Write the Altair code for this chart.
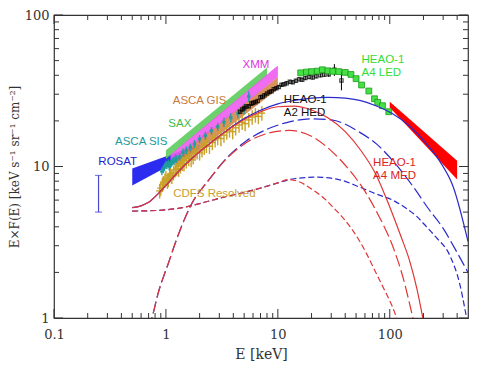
import altair as alt
import pandas as pd

# ---------------- model curves (E [keV], E*F(E)) ----------------
sb_e = [0.5, 0.6, 0.7, 0.85, 1.0, 1.3, 1.75, 2.5, 3.5, 5.0, 7.0, 10, 14, 20, 28, 40, 55, 75, 107, 150, 213, 280, 370, 500]
sb_f = [5.35, 5.5, 5.8, 6.6, 7.5, 9.3, 11.5, 14.3, 17.3, 20.7, 23.5, 25.9, 27.3, 28.3, 28.6, 28.3, 27.2, 25.2, 22.2, 18.5, 14.1, 10.8, 7.3, 3.2]

sr_e = [0.5, 0.6, 0.7, 0.85, 1.0, 1.3, 1.75, 2.5, 3.5, 5.0, 7.0, 10, 14, 20, 28, 40, 55, 75, 100, 125, 150, 175, 200]
sr_f = [5.35, 5.5, 5.8, 6.6, 7.5, 9.3, 11.5, 14.3, 17.2, 20.4, 23.0, 24.8, 25.0, 23.6, 21.0, 17.0, 12.8, 8.9, 5.4, 3.5, 2.4, 1.55, 0.95]

ldb_e = [0.70, 0.75, 0.85, 1.05, 1.3, 1.7, 2.4, 3.5, 5.25, 8, 12, 20, 30, 54, 76, 110, 161, 220, 300, 400, 500]
ldb_f = [0.85, 1.0, 1.45, 2.29, 3.6, 5.68, 8.1, 11.4, 14.8, 17.6, 19.5, 20.6, 20.3, 16.8, 14.1, 10.6, 7.4, 5.3, 3.9, 2.7, 2.0]

ldr_e = [0.70, 0.75, 0.85, 1.05, 1.3, 1.7, 2.4, 3.5, 5.25, 8, 12.8, 16, 22, 31, 45, 62, 80, 107, 130, 161]
ldr_f = [0.85, 1.0, 1.45, 2.29, 3.6, 5.68, 8.1, 11.3, 14.4, 16.5, 17.3, 16.9, 15.2, 12.4, 9.2, 6.6, 4.7, 2.94, 1.9, 1.0]

sdb_e = [0.5, 0.7, 1.0, 1.4, 1.75, 2.5, 3.5, 5, 7, 10, 14, 22, 35, 54, 75, 107, 140, 173, 213, 260, 343, 420, 480]
sdb_f = [5.08, 5.1, 5.18, 5.35, 5.55, 5.95, 6.35, 6.75, 7.2, 7.8, 8.3, 8.5, 8.2, 7.3, 6.6, 5.98, 5.3, 4.7, 4.0, 3.4, 2.6, 1.7, 1.05]

sdr_e = [0.5, 0.7, 1.0, 1.4, 1.75, 2.5, 3.5, 5, 7, 10, 12.5, 15.7, 20, 27, 31, 40, 54, 62, 75, 93, 105, 118]
sdr_f = [5.08, 5.1, 5.18, 5.35, 5.55, 5.95, 6.35, 6.75, 7.2, 7.8, 8.2, 7.9, 7.1, 6.0, 5.4, 4.4, 3.2, 2.66, 2.0, 1.45, 1.2, 0.95]

# ---------------- measured bands (E range, top and bottom) ----------------
rosat_e = [0.5, 2.0]
rosat_top = [9.7, 14.0]
rosat_bot = [7.5, 13.0]

sax_e = [1.0, 8.0]
sax_top = [12.8, 45.0]
sax_bot = [11.2, 39.5]

gis_e = [1.2, 10.0]
gis_top = [11.5, 39.0]
gis_bot = [9.6, 32.5]

xmm_e = [1.1, 10.0]
xmm_top = [12.0, 46.5]
xmm_bot = [10.4, 39.0]

med_e = [100, 400]
med_top = [26.8, 10.9]
med_bot = [24.5, 8.2]

# ---------------- measured points ----------------
sis_e = [0.92, 0.95, 0.97, 1.0, 1.02, 1.05, 1.07, 1.1, 1.12, 1.15, 1.18, 1.22, 1.25, 1.33, 1.42, 1.52, 1.65, 1.8,
         2.0, 2.25, 2.55, 2.9, 3.3, 3.8, 4.4, 5.0, 5.5]
sis_f = [9.3, 9.6, 9.9, 10.3, 10.2, 10.5, 10.0, 10.4, 10.6, 10.8, 10.9, 11.3, 11.2, 11.6, 12.4, 12.8, 13.4, 14.1,
         15.2, 16.0, 17.2, 18.3, 19.6, 21.0, 22.4, 24.0, 29.0]
sis_err = [0.06, 0.06, 0.06, 0.06, 0.06, 0.06, 0.06, 0.06, 0.06, 0.06, 0.06, 0.06, 0.06, 0.06, 0.06, 0.06, 0.06,
           0.06, 0.06, 0.06, 0.06, 0.06, 0.07, 0.07, 0.07, 0.08, 0.08]

cdfs_e = [0.88, 0.9, 0.93, 0.95, 0.98, 1.0, 1.03, 1.05, 1.08, 1.1, 1.13, 1.17, 1.21, 1.25, 1.3, 1.35, 1.4, 1.45,
          1.52, 1.6, 1.68, 1.75, 1.82, 1.9, 2.0, 2.1, 2.2, 2.3, 2.45, 2.6, 2.75, 2.9, 3.1, 3.3, 3.5, 3.7, 3.95,
          4.2, 4.5, 4.8, 5.1, 5.5, 5.9, 6.3, 6.7, 7.2]
cdfs_f = [6.9, 7.2, 7.6, 7.8, 8.1, 8.4, 8.0, 8.2, 8.7, 8.9, 8.6, 9.1, 9.5, 9.7, 9.6, 10.1, 10.5, 10.4,
          10.9, 11.3, 11.1, 11.6, 12.2, 12.5, 12.3, 12.9, 13.4, 13.8, 13.6, 14.4, 15.0, 15.5, 15.3, 16.1, 16.9,
          17.4, 17.0, 18.0, 18.8, 19.6, 19.2, 20.3, 21.2, 21.9, 21.4, 22.5]
cdfs_err = [0.11] * len(cdfs_e)

hed_e = [4.6, 4.8, 5.0, 5.2, 5.5, 5.8, 6.0, 6.3, 6.6, 7.0, 7.3, 7.6, 8.0, 8.4, 8.8, 9.2, 9.7, 10.2, 10.8, 11.4,
         12.0, 12.8, 13.6, 14.5, 15.5, 16.5, 17.6, 19.0, 20.5, 22, 24, 26, 28.5, 32, 37]
hed_f = [23.0, 23.8, 24.2, 24.9, 25.0, 26.0, 26.3, 26.6, 27.1, 28.6, 28.9, 29.5, 30.3, 31.0, 31.4, 32.4, 32.9,
         33.5, 34.6, 34.9, 35.4, 36.2, 36.0, 36.8, 37.6, 37.4, 38.4, 39.0, 38.7, 39.4, 40.0, 40.4, 40.6, 43.5, 37.0]
hed_err = [0.03, 0.03, 0.03, 0.03, 0.03, 0.03, 0.03, 0.03, 0.03, 0.03, 0.03, 0.03, 0.03, 0.03, 0.03, 0.03, 0.03,
           0.03, 0.03, 0.03, 0.03, 0.03, 0.03, 0.03, 0.03, 0.03, 0.03, 0.03, 0.03, 0.03, 0.03, 0.03, 0.04, 0.09, 0.14]

led_e = [16, 18, 20, 22.5, 25, 28, 31, 35, 40, 45, 50, 56, 65, 73, 78, 86, 98]
led_f = [41.5, 42.0, 42.3, 42.6, 43.5, 42.8, 42.5, 42.3, 41.8, 40.5, 38.0, 34.5, 31.5, 28.0, 26.5, 25.2, 23.0]

rosat_bar_e = [0.25]
rosat_bar_lo = [5.0]
rosat_bar_hi = [8.73]

# ---------------- labels ----------------
lab_text = ["ROSAT", "ASCA SIS", "SAX", "ASCA GIS", "XMM", "HEAO-1", "A2 HED", "HEAO-1", "A4 LED",
            "HEAO-1", "A4 MED", "CDFS Resolved"]
lab_e = [0.249, 0.351, 1.05, 1.15, 4.84, 11.3, 11.3, 55.9, 55.9, 71, 71, 1.16]
lab_f = [10.7, 14.5, 19.1, 27.0, 46.9, 27.4, 22.6, 50.2, 41.5, 10.5, 8.7, 6.61]
lab_col = ["#2222cc", "#1f9a9a", "#44bb44", "#c87a40", "#dd33dd", "#111111", "#111111", "#33dd33",
           "#33dd33", "#dd2222", "#dd2222", "#c8a030"]

# ---------------- ticks ----------------
x_major = [0.1, 1, 10, 100]
x_minor = [m * d for d in [0.1, 1, 10] for m in range(2, 10)] + [200, 300, 400]
y_major = [1, 10, 100]
y_minor = [m * d for d in [1, 10] for m in range(2, 10)]

W, H = 414, 303
xs = alt.Scale(type="log", domain=[0.1, 500], nice=False)
ys = alt.Scale(type="log", domain=[1, 100], nice=False)
serif = "DejaVu Serif"
XAX = alt.Axis(values=x_major, ticks=False, domain=False, grid=False,
               title="E [keV]", labelFont=serif, labelFontSize=13,
               titleFont=serif, titleFontSize=14, titleFontWeight="normal",
               labelPadding=10, titlePadding=6, labelColor="#333",
               titleColor="#333", format="~g", labelFlush=False)
YAX = alt.Axis(values=y_major, ticks=False, domain=False, grid=False,
               title="E×F(E) [keV s⁻¹ sr⁻¹ cm⁻²]", labelFont=serif,
               labelFontSize=13, titleFont=serif, titleFontSize=12,
               titleFontWeight="normal", labelPadding=5, titlePadding=3,
               labelColor="#333", titleColor="#333", format="~g", labelFlush=False)


def xe(field="E"):
    return alt.X(f"{field}:Q", scale=xs, axis=XAX)


def ye(field="F"):
    return alt.Y(f"{field}:Q", scale=ys, axis=YAX)


def curve(e, f, color, dash):
    df = pd.DataFrame({"E": e, "F": f})
    kw = dict(color=color, strokeWidth=1.2, clip=True, interpolate="monotone")
    if dash:
        kw["strokeDash"] = dash
    return alt.Chart(df).mark_line(**kw).encode(x=xe(), y=ye())


def band(e, top, bot, color, op=0.9):
    df = pd.DataFrame({"E": e, "F": top, "F2": bot})
    return alt.Chart(df).mark_area(color=color, opacity=op, clip=True).encode(x=xe(), y=ye(), y2="F2:Q")


def errs(e, f, err, color, xerr, sw=1.0):
    df = pd.DataFrame({"E": e, "F": f})
    df["lo"] = [v * (1 - r) for v, r in zip(f, err)]
    df["hi"] = [v * (1 + r) for v, r in zip(f, err)]
    df["elo"] = [v * (1 - xerr) for v in e]
    df["ehi"] = [v * (1 + xerr) for v in e]
    v = alt.Chart(df).mark_rule(color=color, strokeWidth=sw).encode(x=xe(), y=ye("lo"), y2="hi:Q")
    h = alt.Chart(df).mark_rule(color=color, strokeWidth=sw).encode(x=xe("elo"), x2="ehi:Q", y=ye())
    return v + h


layers = []
layers.append(band(rosat_e, rosat_top, rosat_bot, "#1515ee"))
layers.append(band(sax_e, sax_top, sax_bot, "#5ccc5c"))
layers.append(band(gis_e, gis_top, gis_bot, "#d4884a"))
layers.append(band(xmm_e, xmm_top, xmm_bot, "#ee5cee"))
layers.append(band(med_e, med_top, med_bot, "#ff0000", 1.0))

layers.append(errs(cdfs_e, cdfs_f, cdfs_err, "#c9a227", 0.07, 1.4))
layers.append(errs(sis_e, sis_f, sis_err, "#1f9e9e", 0.03, 1.3))
layers.append(alt.Chart(pd.DataFrame({"E": sis_e, "F": sis_f})).mark_point(
    shape="square", size=12, filled=True, color="#1f9e9e").encode(x=xe(), y=ye()))
layers.append(errs(hed_e, hed_f, hed_err, "#000000", 0.0, 1.0))
layers.append(alt.Chart(pd.DataFrame({"E": hed_e, "F": hed_f})).mark_point(
    shape="square", size=11, filled=False, color="#000000", strokeWidth=1.2).encode(x=xe(), y=ye()))
layers.append(alt.Chart(pd.DataFrame({"E": led_e, "F": led_f})).mark_point(
    shape="square", size=34, filled=True, fill="#44e044", stroke="#1a9a1a", strokeWidth=0.8, opacity=1).encode(
    x=xe(), y=ye()))

rb = pd.DataFrame({"E": rosat_bar_e, "F": rosat_bar_lo, "hi": rosat_bar_hi})
layers.append(alt.Chart(rb).mark_rule(color="#4a4ad0", strokeWidth=1.2).encode(x=xe(), y=ye(), y2="hi:Q"))
layers.append(alt.Chart(rb).mark_tick(color="#4a4ad0", orient="horizontal", size=7, thickness=1.2).encode(
    x=xe(), y=ye()))
layers.append(alt.Chart(rb).mark_tick(color="#4a4ad0", orient="horizontal", size=7, thickness=1.2).encode(
    x=xe(), y=ye("hi")))

blue, red = "#2a2acc", "#e03535"
layers.append(curve(sdb_e, sdb_f, blue, [6, 3]))
layers.append(curve(sdr_e, sdr_f, red, [6, 3]))
layers.append(curve(ldb_e, ldb_f, blue, [12, 4]))
layers.append(curve(ldr_e, ldr_f, red, [12, 4]))
layers.append(curve(sb_e, sb_f, blue, None))
layers.append(curve(sr_e, sr_f, red, None))

labs = pd.DataFrame({"E": lab_e, "F": lab_f, "t": lab_text, "c": lab_col})
layers.append(alt.Chart(labs).mark_text(align="left", baseline="middle", font="Liberation Sans",
                                         fontSize=11.5).encode(x=xe(), y=ye(), text="t:N",
                                                               color=alt.Color("c:N", scale=None)))


# frame ticks (inward)
def xt(vals, y0, y1):
    return alt.Chart(pd.DataFrame({"E": vals})).mark_rule(color="#333", strokeWidth=1).encode(
        x=xe(), y=alt.value(y0), y2=alt.value(y1))


def yt(vals, x0, x1):
    return alt.Chart(pd.DataFrame({"F": vals})).mark_rule(color="#333", strokeWidth=1).encode(
        y=ye(), x=alt.value(x0), x2=alt.value(x1))


layers += [xt(x_major, H, H - 9), xt(x_minor, H, H - 5), xt(x_major, 0, 9), xt(x_minor, 0, 5),
           yt(y_major, 0, 9), yt(y_minor, 0, 5), yt(y_major, W, W - 9), yt(y_minor, W, W - 5)]

chart = alt.layer(*layers).properties(
    width=W, height=H,
    autosize=alt.AutoSizeParams(type="none"),
    padding={"left": 46, "top": 7, "right": 4, "bottom": 48},
).configure_view(stroke="#333", strokeWidth=1.2)

chart.save("out.html", embed_options={"renderer": "svg", "actions": False})
